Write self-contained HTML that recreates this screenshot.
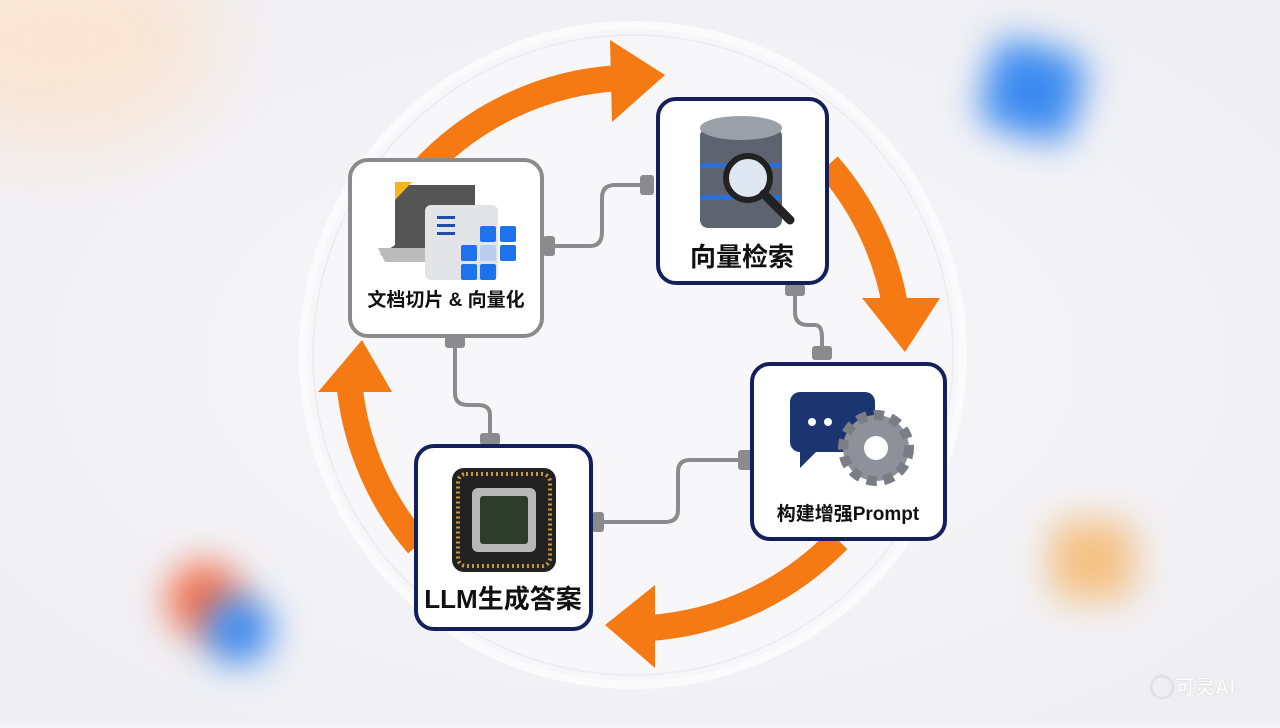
<!DOCTYPE html>
<html><head><meta charset="utf-8"><style>
body{margin:0;width:1280px;height:723px;overflow:hidden;background:#f3f3f6;font-family:"Liberation Sans","Noto Sans CJK SC",sans-serif}
</style></head><body>
<svg width="1280" height="723" viewBox="0 0 1280 723" xmlns="http://www.w3.org/2000/svg">
<defs>
<filter id="b" x="-100%" y="-100%" width="300%" height="300%"><feGaussianBlur stdDeviation="18"/></filter>
<filter id="b2" x="-100%" y="-100%" width="300%" height="300%"><feGaussianBlur stdDeviation="40"/></filter>
<radialGradient id="bg" cx="0.5" cy="0.5" r="0.6"><stop offset="0" stop-color="#f9f9fb"/><stop offset="1" stop-color="#efeff3"/></radialGradient>
</defs>
<rect width="1280" height="723" fill="url(#bg)"/>
<ellipse cx="60" cy="40" rx="160" ry="110" fill="#fbe3cf" filter="url(#b2)" opacity="0.8"/>
<rect x="985" y="45" width="95" height="90" rx="20" fill="#3b8af0" filter="url(#b)" transform="rotate(15 1030 90)"/>
<rect x="1050" y="520" width="85" height="80" rx="20" fill="#f6b668" filter="url(#b)" opacity="0.8"/>
<circle cx="205" cy="600" r="38" fill="#f4714e" filter="url(#b)"/>
<circle cx="238" cy="630" r="34" fill="#3b8af0" filter="url(#b)"/>
<circle cx="633" cy="355" r="330" fill="#f7f7f9" stroke="#fbfbfc" stroke-width="8"/>
<circle cx="633" cy="355" r="320" fill="none" stroke="#ececf0" stroke-width="1.5"/>
<g fill="none" stroke="#f57a14" stroke-width="26">
<path d="M425 168 A290 290 0 0 1 620 78"/>
<path d="M828 165 A290 290 0 0 1 895 305"/>
<path d="M838 540 A290 290 0 0 1 650 628"/>
<path d="M418 545 A290 290 0 0 1 350 390"/>
</g>
<g fill="#f57a14">
<polygon points="610,40 665,75 612,122"/>
<polygon points="862,298 940,298 905,352"/>
<polygon points="655,585 655,668 605,625"/>
<polygon points="318,392 392,392 362,340"/>
</g>
<g fill="none" stroke="#8b8b8d" stroke-width="4">
<path d="M545 246 H590 Q602 246 602 232 V198 Q602 185 615 185 H650"/>
<path d="M795 288 V312 Q795 325 808 325 H815 Q822 325 822 338 V358"/>
<path d="M745 460 H690 Q678 460 678 472 V510 Q678 522 665 522 H598"/>
<path d="M490 440 V415 Q490 405 478 405 H468 Q455 405 455 393 V340"/>
</g>
<g fill="#8b8b8d">
<rect x="543" y="236" width="12" height="20" rx="3"/><rect x="640" y="175" width="14" height="20" rx="3"/>
<rect x="785" y="284" width="20" height="12" rx="3"/><rect x="812" y="346" width="20" height="14" rx="3"/>
<rect x="738" y="450" width="14" height="20" rx="3"/><rect x="592" y="512" width="12" height="20" rx="3"/>
<rect x="480" y="433" width="20" height="12" rx="3"/><rect x="445" y="336" width="20" height="12" rx="3"/>
</g>
<rect x="350" y="160" width="192" height="176" rx="18" fill="#fff" stroke="#8b8b8d" stroke-width="4"/>
<rect x="658" y="99" width="169" height="184" rx="18" fill="#fff" stroke="#14205c" stroke-width="4"/>
<rect x="752" y="364" width="193" height="175" rx="18" fill="#fff" stroke="#14205c" stroke-width="4"/>
<rect x="416" y="446" width="175" height="183" rx="18" fill="#fff" stroke="#14205c" stroke-width="4"/>
<polygon points="395,185 475,185 475,255 380,255 395,245" fill="#555"/>
<polygon points="395,182 412,182 395,200" fill="#f4b61a"/>
<polygon points="378,248 425,248 432,262 385,262" fill="#bbb"/>
<rect x="425" y="205" width="73" height="75" rx="6" fill="#e3e4e8"/>
<g fill="#1d4fa8"><rect x="437" y="216" width="18" height="3"/><rect x="437" y="224" width="18" height="3"/><rect x="437" y="232" width="18" height="3"/></g>
<g fill="#1f72ee"><rect x="480" y="226" width="16" height="16" rx="2"/><rect x="500" y="226" width="16" height="16" rx="2"/><rect x="461" y="245" width="16" height="16" rx="2"/><rect x="500" y="245" width="16" height="16" rx="2"/><rect x="461" y="264" width="16" height="16" rx="2"/><rect x="480" y="264" width="16" height="16" rx="2"/></g>
<rect x="480" y="245" width="16" height="16" rx="2" fill="#b9cdf0"/>
<text x="446" y="306" text-anchor="middle" font-size="19" font-weight="bold" fill="#111">文档切片 &amp; 向量化</text>
<g fill="#5d6470"><rect x="700" y="128" width="82" height="100" rx="8"/></g>
<ellipse cx="741" cy="128" rx="41" ry="12" fill="#9aa0a8"/>
<rect x="700" y="163" width="82" height="5" fill="#2c6fd6"/><rect x="700" y="195" width="82" height="5" fill="#2c6fd6"/>
<circle cx="748" cy="178" r="22" fill="#dfe8f2" stroke="#222" stroke-width="6"/>
<line x1="764" y1="194" x2="790" y2="220" stroke="#222" stroke-width="9" stroke-linecap="round"/>
<text x="742" y="266" text-anchor="middle" font-size="26" font-weight="bold" fill="#111">向量检索</text>
<rect x="790" y="392" width="85" height="60" rx="10" fill="#1a3570"/>
<polygon points="800,450 818,450 800,468" fill="#1a3570"/>
<g fill="#fff"><circle cx="812" cy="422" r="4"/><circle cx="828" cy="422" r="4"/></g>
<circle cx="876" cy="448" r="33" fill="#8e9199" stroke="#7a7d85" stroke-width="10" stroke-dasharray="10 7"/>
<circle cx="876" cy="448" r="12" fill="#fff"/>
<text x="848" y="520" text-anchor="middle" font-size="19" font-weight="bold" fill="#111">构建增强Prompt</text>
<rect x="452" y="468" width="104" height="104" rx="12" fill="#222"/>
<rect x="458" y="474" width="92" height="92" rx="8" fill="none" stroke="#c99a3a" stroke-width="4" stroke-dasharray="2 3"/>
<rect x="472" y="488" width="64" height="64" rx="6" fill="#b8b8b8"/>
<rect x="480" y="496" width="48" height="48" rx="3" fill="#2c3d2a"/>
<text x="503" y="608" text-anchor="middle" font-size="26" font-weight="bold" fill="#111">LLM生成答案</text>
<text x="1175" y="694" font-size="20" font-weight="bold" fill="#fff" stroke="#e2e2e6" stroke-width="0.8">可灵AI</text>
<circle cx="1162" cy="687" r="11" fill="none" stroke="#e2e2e6" stroke-width="3"/>
</svg>
</body></html>
